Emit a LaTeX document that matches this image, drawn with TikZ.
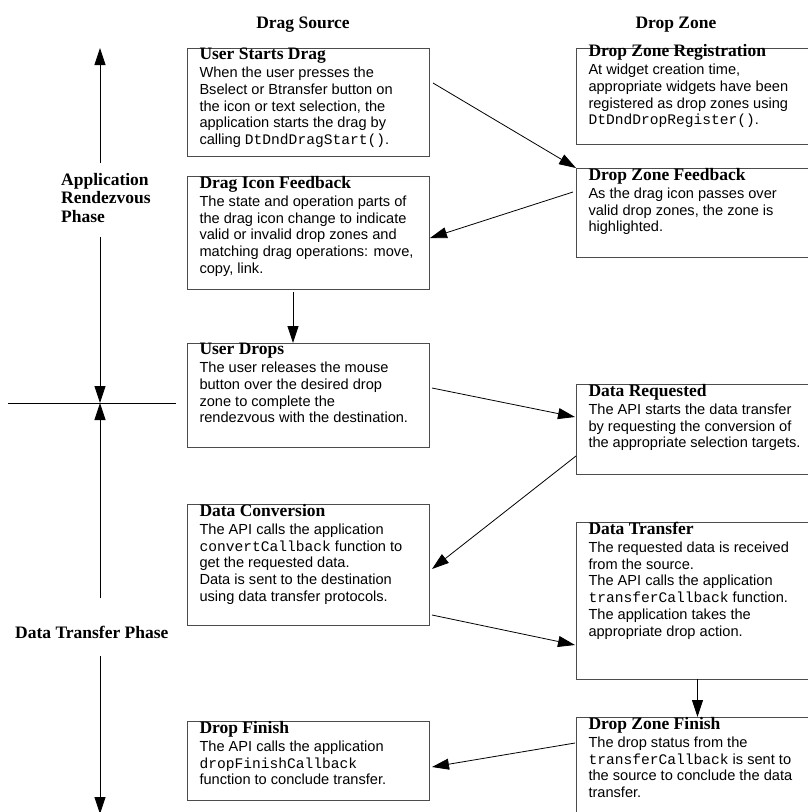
\documentclass[tikz,border=0pt]{standalone}
\usepackage{fontspec}
\setmainfont{Liberation Serif}
\setmonofont{Liberation Mono}
\newfontfamily\helv{Liberation Sans}
\usetikzlibrary{arrows.meta}

\begin{document}
\begin{tikzpicture}[x=1pt, y=-1pt]


% GLOBAL SETTINGS
\newcommand{\titlefont}{\fontsize{17.5}{18.5}\selectfont\bfseries}
\newcommand{\bodyfont}{\helv\fontsize{14.6}{16.7}\selectfont}
\newcommand{\code}[1]{{\ttfamily #1}}
\newcommand{\stagetext}[5][0pt]{\parbox[c][#3][t]{#2}{\raggedright\vspace*{#1}{\titlefont #4\par}\vspace{1.5pt}{\bodyfont #5\par}}}

% SHARED CODE
\tikzset{
stage/.style={draw=black!70, line width=0.9pt, anchor=north west, inner xsep=12.5pt, inner ysep=0pt, outer sep=0pt},
phase/.style={font=\titlefont, inner xsep=0pt},
flow/.style={draw, line width=0.8pt, -{Triangle[length=17pt, width=11pt]}}
}
\useasboundingbox (0,0) rectangle (807,812);
% headers
\node[font=\titlefont, anchor=base] (srcHead) at (303,28) {Drag Source};
\node[font=\titlefont, anchor=base] (zoneHead) at (676,28) {Drop Zone};
% drag source
\node[stage] (usrStart) at (187,48) {\stagetext{217pt}{108pt}{User Starts Drag}{When the user presses the\\
Bselect or Btransfer button on\\ the icon or text selection, the\\ application starts the drag by\\
calling \code{DtDndDragStart()}.}};
\node[stage] (iconFeedback) at (187,176) {\stagetext{217pt}{113pt}{Drag Icon Feedback}{The state and operation parts of\\
the drag icon change to indicate\\ valid or invalid drop zones and\\ matching drag operations: move,\\ copy, link.}};
\node[stage] (usrDrops) at (187,343) {\stagetext{217pt}{104pt}{User Drops}{The user releases the mouse\\
button over the desired drop\\ zone to complete the\\ rendezvous with the destination.}};
\node[stage] (dataConv) at (187,504) {\stagetext{217pt}{121pt}{Data Conversion}{The API calls the application\\
\code{convertCallback} function to\\ get the requested data.\\ Data is sent to the destination\\ using data transfer protocols.}};
\node[stage] (dropFinish) at (187,721) {\stagetext{217pt}{79pt}{Drop Finish}{The API calls the application\\
\code{dropFinishCallback}\\ function to conclude transfer.}};
% drop zone
\node[stage] (dzReg) at (576,48) {\stagetext[-3.5pt]{212pt}{96pt}{Drop Zone Registration}{At widget creation time,\\
appropriate widgets have been\\ registered as drop zones using\\ \code{DtDndDropRegister()}.}};
\node[stage] (dzFeedback) at (576,168) {\stagetext{212pt}{89pt}{Drop Zone Feedback}{As the drag icon passes over\\
valid drop zones, the zone is\\ highlighted.}};
\node[stage] (dataReq) at (576,384) {\stagetext{212pt}{90pt}{Data Requested}{The API starts the data transfer\\
by requesting the conversion of\\ the appropriate selection targets.}};
\node[stage] (dataXfer) at (576,522) {\stagetext{212pt}{157pt}{Data Transfer}{The requested data is received\\
from the source.\\ The API calls the application\\ \code{transferCallback} function.\\ The application takes the\\ appropriate drop action.}};
\node[stage] (dzFinish) at (576,717) {\stagetext{212pt}{113pt}{Drop Zone Finish}{The drop status from the\\
\code{transferCallback} is sent to\\ the source to conclude the data\\ transfer.}};
% phases
\node[phase, anchor=north west, inner ysep=9pt] (rdvPhase) at (61,163) {\begin{tabular}{@{}l@{}}Application\\Rendezvous\\Phase\end{tabular}};
\node[phase, anchor=base west, inner ysep=18pt] (dtpPhase) at (15,638) {Data Transfer Phase};
\coordinate (axTop) at (100,48);
\coordinate (axMid) at (100,403);
\coordinate (axBot) at (100,814);
\coordinate (cutL) at (8,403);
\coordinate (cutR) at (176,403);



% EDGES & AXIS
\draw[flow] (rdvPhase.north -| axTop) -- (axTop);
\draw[flow] (rdvPhase.south -| axTop) -- (axMid);
\draw[flow] ([yshift=9pt]dtpPhase.north -| axTop) -- (axMid);
\draw[flow] (dtpPhase.south -| axTop) -- (axBot);
\draw[line width=0.9pt] (cutL) -- (cutR);
\draw[flow] ([shift={(4,35)}]usrStart.north east) -- (dzFeedback.north west);
\draw[flow] ([shift={(-3,24)}]dzFeedback.north west) -- ([shift={(1,62)}]iconFeedback.north east);
\draw[flow] ([shift={(-15,3)}]iconFeedback.south) -- ([xshift=-15pt]usrDrops.north);
\draw[flow] ([shift={(3,45)}]usrDrops.north east) -- ([shift={(-1,33)}]dataReq.north west);
\draw[flow] ([shift={(0,72)}]dataReq.north west) -- ([shift={(3,65)}]dataConv.north east);
\draw[flow] ([shift={(3,111)}]dataConv.north east) -- ([shift={(-1,123)}]dataXfer.north west);
\draw[flow] ([xshift=3pt]dataXfer.south) -- ([xshift=3pt]dzFinish.north);
\draw[flow] ([shift={(-1,26)}]dzFinish.north west) -- ([shift={(3,46)}]dropFinish.north east);

\end{tikzpicture}
\end{document}
